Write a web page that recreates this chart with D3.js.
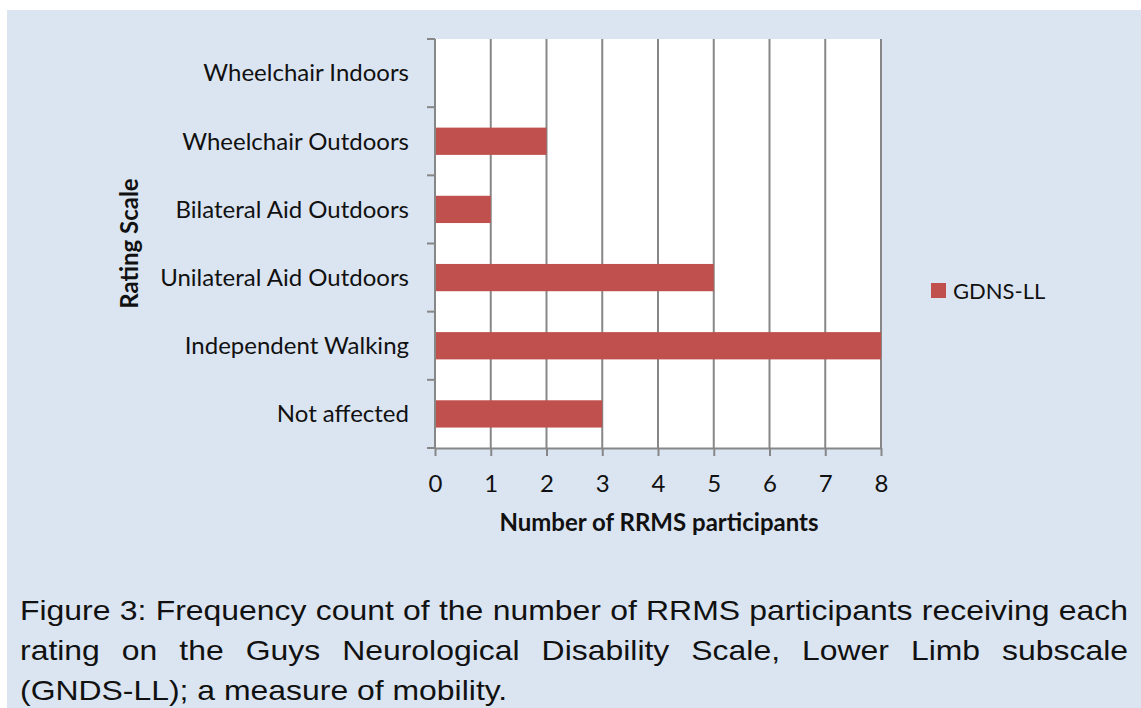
<!DOCTYPE html>
<html>
<head>
<meta charset="utf-8">
<script src="https://cdnjs.cloudflare.com/ajax/libs/d3/7.8.5/d3.min.js"></script>
<style>
	body{
		margin:0;
		background-color:white;
		width:1141px;
		height:708px;
		overflow:hidden;
		position:relative;
	}
	#caption{
		position:absolute;
		left:20px;
		top:591px;
		width:972px;
		transform:scaleX(1.14);
		transform-origin:0 0;
		font-family:"Liberation Sans", Arial, sans-serif;
		font-size:28px;
		line-height:40px;
		color:#111;
	}
	#caption div{
		white-space:nowrap;
		text-align:justify;
		text-align-last:justify;
	}
	#caption div.last{
		text-align-last:left;
	}
	.axis text{
		font-family:Lato, "Open Sans", sans-serif;
		font-size:24px;
		fill:#111;
	}
</style>
</head>
<body>
<svg id="chart" width="1141" height="708"></svg>
<div id="caption">
	<div>Figure 3: Frequency count of the number of RRMS participants receiving each</div>
	<div>rating on the Guys Neurological Disability Scale, Lower Limb subscale</div>
	<div class="last">(GNDS-LL); a measure of mobility.</div>
</div>
<script>
	var categories = ["Not affected", "Independent Walking", "Unilateral Aid Outdoors", "Bilateral Aid Outdoors", "Wheelchair Outdoors", "Wheelchair Indoors"];
	var counts = [3, 8, 5, 1, 2, 0];
	var xTicks = [0, 1, 2, 3, 4, 5, 6, 7, 8];
	var seriesName = "GDNS-LL";

	var BAR = "#c0504d", GRID = "#878787";
	var plot = {left: 435, top: 39, right: 881, bottom: 448};

	var svg = d3.select("#chart");

	svg.append("rect")
		.attr("x", 7).attr("y", 10)
		.attr("width", 1141 - 7).attr("height", 708 - 10)
		.attr("fill", "#dbe5f1");

	svg.append("rect")
		.attr("x", plot.left).attr("y", plot.top)
		.attr("width", plot.right - plot.left).attr("height", plot.bottom - plot.top)
		.attr("fill", "white");

	var x = d3.scaleLinear().domain([0, 8]).range([plot.left, plot.right]);
	var y = d3.scaleBand().domain(categories).range([plot.bottom, plot.top]).paddingInner(0.6).paddingOuter(0.3);
	var yEdges = d3.scaleLinear().domain([0, categories.length]).range([plot.bottom, plot.top]);

	// vertical gridlines
	svg.append("g").selectAll("line")
		.data(xTicks.slice(1))
		.enter().append("line")
		.attr("x1", function(d){ return x(d); })
		.attr("x2", function(d){ return x(d); })
		.attr("y1", plot.top).attr("y2", plot.bottom)
		.attr("stroke", GRID).attr("stroke-width", 2);

	// bars
	svg.append("g").selectAll("rect")
		.data(categories)
		.enter().append("rect")
		.attr("x", x(0))
		.attr("y", function(d){ return y(d); })
		.attr("width", function(d, i){ return x(counts[i]) - x(0); })
		.attr("height", y.bandwidth())
		.attr("fill", BAR);

	// x axis
	var xAxis = svg.append("g")
		.attr("class", "axis")
		.attr("transform", "translate(0," + plot.bottom + ")")
		.call(d3.axisBottom(x).tickValues(xTicks).tickFormat(d3.format("d")).tickSize(8).tickSizeOuter(0));
	xAxis.select(".domain").attr("stroke", GRID).attr("stroke-width", 2);
	xAxis.selectAll(".tick line").attr("stroke", GRID).attr("stroke-width", 2);
	xAxis.selectAll(".tick text").attr("y", 36).attr("dy", "0.35em");

	// y axis: ticks on category boundaries
	var yAxis = svg.append("g").attr("class", "axis");
	yAxis.append("line")
		.attr("x1", plot.left).attr("x2", plot.left)
		.attr("y1", plot.top).attr("y2", plot.bottom)
		.attr("stroke", GRID).attr("stroke-width", 2);
	yAxis.selectAll(".edge")
		.data(d3.range(categories.length + 1))
		.enter().append("line")
		.attr("class", "edge")
		.attr("x1", plot.left - 8).attr("x2", plot.left)
		.attr("y1", function(d){ return yEdges(d); })
		.attr("y2", function(d){ return yEdges(d); })
		.attr("stroke", GRID).attr("stroke-width", 2);
	yAxis.selectAll(".lab")
		.data(categories)
		.enter().append("text")
		.attr("class", "lab")
		.attr("x", plot.left - 26)
		.attr("y", function(d){ return y(d) + y.bandwidth() / 2; })
		.attr("dy", "0.35em")
		.attr("text-anchor", "end")
		.text(function(d){ return d; });

	// axis titles
	svg.append("text")
		.attr("x", (plot.left + plot.right) / 2 + 1)
		.attr("y", 523)
		.attr("dy", "0.35em")
		.attr("text-anchor", "middle")
		.style("font", "bold 24px Lato, 'Open Sans', sans-serif")
		.attr("fill", "#111")
		.text("Number of RRMS participants");

	svg.append("text")
		.attr("transform", "translate(130," + ((plot.top + plot.bottom) / 2) + ") rotate(-90)")
		.attr("dy", "0.35em")
		.attr("text-anchor", "middle")
		.style("font", "bold 24px Lato, 'Open Sans', sans-serif")
		.attr("fill", "#111")
		.text("Rating Scale");

	// legend
	var legend = svg.append("g").attr("transform", "translate(931,283)");
	legend.append("rect").attr("width", 15).attr("height", 15).attr("fill", BAR);
	legend.append("text")
		.attr("x", 22).attr("y", 8)
		.attr("dy", "0.35em")
		.style("font", "22px Lato, 'Open Sans', sans-serif")
		.attr("fill", "#111")
		.text(seriesName);
</script>
</body>
</html>
